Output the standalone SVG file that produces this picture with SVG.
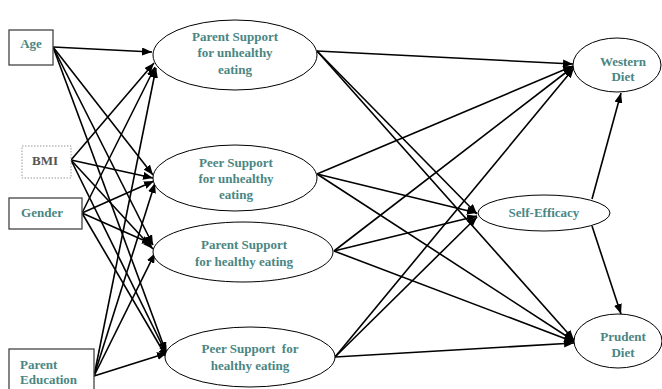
<svg xmlns="http://www.w3.org/2000/svg" width="662" height="389" viewBox="0 0 662 389">
<style>
.box{fill:#fff;stroke:#444;stroke-width:1.3}
.dot{fill:#fff;stroke:#999;stroke-width:1;stroke-dasharray:1.5 1.5}
.ell{fill:#fff;stroke:#000;stroke-width:1}
.t{font-family:"Liberation Serif",serif;font-weight:bold;font-size:13px;fill:#4a8683;text-anchor:middle;white-space:pre}
.tl{text-anchor:start}
.g{fill:#555}
.c line{stroke:#000;stroke-width:1.6;marker-end:url(#ah)}
</style>
<defs>
<marker id="ah" viewBox="0 0 10 8" refX="10" refY="4" markerWidth="10" markerHeight="8" markerUnits="userSpaceOnUse" orient="auto">
<path d="M0,0 L10,4 L0,8 z" fill="#000"/>
</marker>
</defs>
<g class="c" id="connectors">
<!-- Age -->
<line x1="53" y1="47" x2="152" y2="52"/>
<line x1="53" y1="47" x2="153" y2="175"/>
<line x1="53" y1="47" x2="153" y2="245"/>
<line x1="53" y1="47" x2="166" y2="352"/>
<!-- BMI -->
<line x1="71" y1="160" x2="154" y2="63"/>
<line x1="71" y1="160" x2="153" y2="178"/>
<line x1="71" y1="160" x2="153" y2="249"/>
<line x1="71" y1="160" x2="167" y2="355"/>
<!-- Gender -->
<line x1="82" y1="213" x2="155" y2="67"/>
<line x1="82" y1="213" x2="154" y2="181"/>
<line x1="82" y1="213" x2="152" y2="244"/>
<line x1="82" y1="213" x2="167" y2="358"/>
<!-- Parent Education -->
<line x1="94" y1="376" x2="156" y2="68"/>
<line x1="94" y1="376" x2="155" y2="183"/>
<line x1="94" y1="376" x2="155" y2="253"/>
<line x1="94" y1="376" x2="167" y2="353"/>
<!-- Mediators to outcomes -->
<line x1="317" y1="51" x2="573" y2="64"/>
<line x1="317" y1="51" x2="477" y2="214"/>
<line x1="317" y1="51" x2="574" y2="340"/>
<line x1="317" y1="174" x2="573" y2="66"/>
<line x1="317" y1="174" x2="477" y2="213"/>
<line x1="317" y1="174" x2="574" y2="341"/>
<line x1="334" y1="251" x2="573" y2="67"/>
<line x1="334" y1="251" x2="477" y2="216"/>
<line x1="334" y1="251" x2="574" y2="342"/>
<line x1="335" y1="357" x2="574" y2="68"/>
<line x1="335" y1="357" x2="477" y2="217"/>
<line x1="335" y1="357" x2="574" y2="343"/>
<!-- Self-efficacy -->
<line x1="592" y1="199" x2="621" y2="93"/>
<line x1="592" y1="226" x2="621" y2="314"/>
</g>
<g id="age"><rect class="box" x="9" y="30" width="44" height="35"/><text class="t" x="31" y="48">Age</text></g>
<g id="bmi"><rect class="dot" x="22" y="146" width="49" height="32"/><text class="t g" x="45" y="165">BMI</text></g>
<g id="gender"><rect class="box" x="9" y="198" width="73" height="31"/><text class="t" x="42" y="217">Gender</text></g>
<g id="parent-education"><rect class="box" x="9" y="349" width="85" height="48"/><text class="t tl" x="20" y="369">Parent</text><text class="t tl" x="20" y="384">Education</text></g>
<g id="psu"><ellipse class="ell" cx="235" cy="55" rx="82" ry="35"/><text class="t" x="235" y="41">Parent Support</text><text class="t" x="235" y="57">for unhealthy</text><text class="t" x="235" y="74">eating</text></g>
<g id="peersu"><ellipse class="ell" cx="235" cy="178" rx="82" ry="33"/><text class="t" x="236" y="167">Peer Support</text><text class="t" x="236" y="183">for unhealthy</text><text class="t" x="236" y="199">eating</text></g>
<g id="psh"><ellipse class="ell" cx="243" cy="252" rx="90" ry="30"/><text class="t" x="244" y="249">Parent Support</text><text class="t" x="244" y="266">for healthy eating</text></g>
<g id="peersh"><ellipse class="ell" cx="250" cy="357" rx="85" ry="30"/><text class="t" x="250" y="353">Peer Support  for</text><text class="t" x="250" y="370">healthy eating</text></g>
<g id="western"><ellipse class="ell" cx="617" cy="65" rx="44" ry="27"/><text class="t" x="623" y="66">Western</text><text class="t" x="623" y="81">Diet</text></g>
<g id="self-efficacy"><ellipse class="ell" cx="544" cy="213" rx="66" ry="18"/><text class="t" x="544" y="217">Self-Efficacy</text></g>
<g id="prudent"><ellipse class="ell" cx="618" cy="341" rx="44" ry="27"/><text class="t" x="623" y="341">Prudent</text><text class="t" x="623" y="357">Diet</text></g>
</svg>
